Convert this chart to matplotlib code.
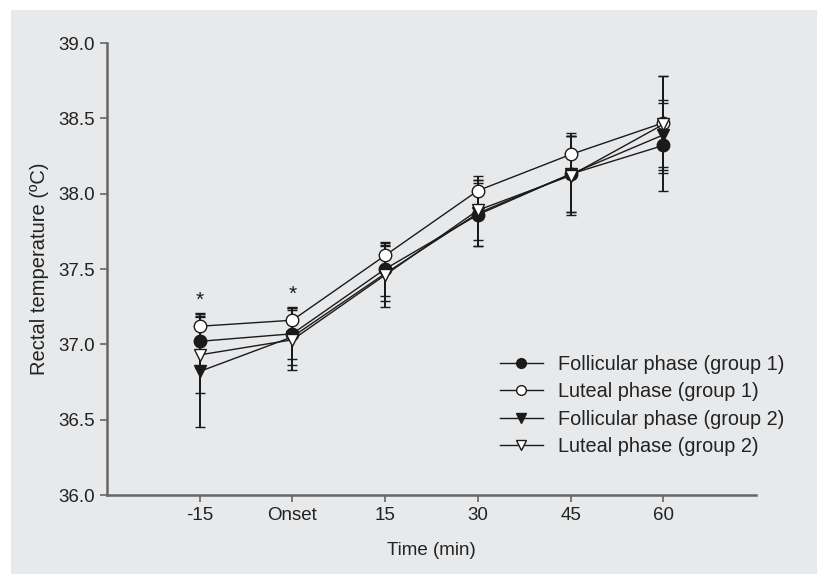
import matplotlib
matplotlib.use("Agg")
import matplotlib.pyplot as plt
from matplotlib.patches import Rectangle
from matplotlib.lines import Line2D

plt.rcParams['font.family'] = ['Liberation Sans', 'DejaVu Sans']

# data (mean +/- SD, rectal temperature in C)
time_labels = ["-15", "Onset", "15", "30", "45", "60"]
foll_g1 = [37.02, 37.07, 37.50, 37.86, 38.13, 38.32]
foll_g1_sd = [0.18, 0.17, 0.18, 0.21, 0.25, 0.30]
lut_g1 = [37.12, 37.16, 37.59, 38.02, 38.26, 38.47]
lut_g1_sd = [0.09, 0.09, 0.07, 0.10, 0.14, 0.31]
foll_g2 = [36.82, 37.05, 37.47, 37.87, 38.13, 38.39]
foll_g2_sd = [0.37, 0.19, 0.18, 0.22, 0.25, 0.21]
lut_g2 = [36.93, 37.03, 37.46, 37.89, 38.12, 38.46]
lut_g2_sd = [0.25, 0.20, 0.21, 0.20, 0.26, 0.32]
star_idx = [0, 1]

x = list(range(len(time_labels)))
ink = "#1a1a1a"

fig = plt.figure(figsize=(8.17, 5.74), dpi=100, facecolor="white")
# grey panel behind the chart
fig.patches.append(Rectangle((11 / 817, 0), 1, 1 - 10 / 574, transform=fig.transFigure,
                             facecolor="#e8e9eb", edgecolor="none", zorder=-1))

ax = fig.add_axes([107 / 817, 1 - 495 / 574, (756 - 107) / 817, (495 - 43) / 574])
ax.set_facecolor("none")

series = [
    (foll_g1, foll_g1_sd, "o", ink, "Follicular phase (group 1)"),
    (lut_g1, lut_g1_sd, "o", "white", "Luteal phase (group 1)"),
    (foll_g2, foll_g2_sd, "v", ink, "Follicular phase (group 2)"),
    (lut_g2, lut_g2_sd, "v", "white", "Luteal phase (group 2)"),
]
handles = []
for y, sd, m, fc, lab in series:
    ax.errorbar(x, y, yerr=sd, color=ink, ecolor=ink, elinewidth=1.4,
                capsize=3.5, capthick=1.4, lw=1.0, marker=m, markersize=9,
                markerfacecolor=fc, markeredgecolor=ink, markeredgewidth=1.0)
    handles.append(Line2D([], [], color=ink, lw=1.0, marker=m, markersize=7,
                          markerfacecolor=fc, markeredgecolor=ink, label=lab))

# significance marks
for i in star_idx:
    top = max(s[0][i] + s[1][i] for s in series)
    ax.text(x[i], top + 0.02, "*", ha="center", va="bottom", fontsize=15, color=ink)

ax.set_xlim(-1, 6)
ax.set_ylim(36, 39)
ax.set_xticks(x)
ax.set_xticklabels(time_labels)
ax.set_yticks([36.0, 36.5, 37.0, 37.5, 38.0, 38.5, 39.0])
ax.set_yticklabels(["36.0", "36.5", "37.0", "37.5", "38.0", "38.5", "39.0"])
ax.tick_params(labelsize=13.5, length=5, width=1.2, color="#666666", labelcolor="#222222")
for s in ["top", "right"]:
    ax.spines[s].set_visible(False)
for s in ["left", "bottom"]:
    ax.spines[s].set_color("#666666")
    ax.spines[s].set_linewidth(1.8)

ax.set_xlabel("Time (min)", fontsize=13.5, color="#222222", labelpad=13)
ax.set_ylabel("Rectal temperature (\u00baC)", fontsize=14.5, color="#222222", labelpad=7)

leg = ax.legend(handles=handles, loc="upper left", bbox_to_anchor=(500 / 817, 1 - 355 / 574),
                bbox_transform=fig.transFigure, frameon=False, fontsize=14.3,
                handlelength=2.15, handletextpad=0.75, labelspacing=0.42, borderpad=0,
                borderaxespad=0)
for t in leg.get_texts():
    t.set_color("#222222")

fig.savefig("out.png", dpi=100, facecolor=fig.get_facecolor())
